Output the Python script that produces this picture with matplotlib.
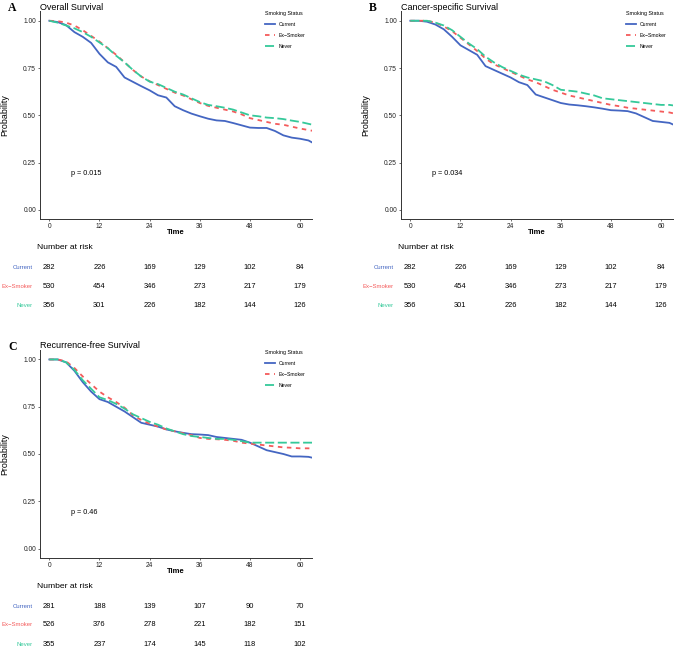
import matplotlib
matplotlib.use('Agg')
import matplotlib.pyplot as plt
import matplotlib.transforms as mtransforms

W, H = 677, 647

TIME = [0, 2, 4, 6, 8, 10, 12, 14, 16, 18, 20, 22, 24, 26, 28, 30, 32, 34, 36,
        38, 40, 42, 44, 46, 48, 50, 52, 54, 56, 58, 60, 62, 63]

# A - Overall survival
os_current = [1.00, 0.993, 0.977, 0.94, 0.915, 0.883, 0.825, 0.78, 0.756, 0.70, 0.677,
              0.654, 0.632, 0.606, 0.594, 0.548, 0.527, 0.509, 0.495, 0.482, 0.473,
              0.47, 0.459, 0.447, 0.435, 0.433, 0.433, 0.417, 0.394, 0.382, 0.376,
              0.367, 0.355]
os_ex = [1.00, 0.998, 0.99, 0.975, 0.95, 0.92, 0.89, 0.855, 0.82, 0.78, 0.74, 0.705,
         0.68, 0.66, 0.64, 0.62, 0.605, 0.585, 0.565, 0.55, 0.54, 0.53, 0.52, 0.505,
         0.485, 0.475, 0.465, 0.455, 0.45, 0.44, 0.43, 0.422, 0.418]
os_never = [1.00, 0.99, 0.975, 0.96, 0.94, 0.915, 0.885, 0.855, 0.815, 0.78, 0.74,
            0.705, 0.678, 0.665, 0.645, 0.625, 0.61, 0.59, 0.57, 0.555, 0.548, 0.54,
            0.53, 0.515, 0.5, 0.495, 0.488, 0.485, 0.48, 0.472, 0.465, 0.455, 0.45]

# B - Cancer-specific survival
css_current = [1.00, 1.00, 0.995, 0.98, 0.955, 0.915, 0.87, 0.845, 0.82, 0.76, 0.74,
               0.72, 0.70, 0.675, 0.66, 0.61, 0.595, 0.58, 0.565, 0.557, 0.553, 0.548,
               0.542, 0.535, 0.527, 0.525, 0.522, 0.51, 0.49, 0.47, 0.465, 0.46, 0.45]
css_ex = [1.00, 1.00, 1.00, 0.99, 0.97, 0.945, 0.91, 0.875, 0.84, 0.80, 0.77, 0.75,
          0.73, 0.71, 0.69, 0.675, 0.655, 0.635, 0.62, 0.605, 0.595, 0.585, 0.575,
          0.565, 0.555, 0.548, 0.54, 0.535, 0.53, 0.525, 0.52, 0.515, 0.51]
css_never = [1.00, 1.00, 1.00, 0.99, 0.975, 0.95, 0.915, 0.88, 0.85, 0.81, 0.78, 0.755,
             0.735, 0.715, 0.70, 0.69, 0.68, 0.66, 0.635, 0.63, 0.625, 0.615, 0.605,
             0.59, 0.585, 0.58, 0.575, 0.57, 0.565, 0.56, 0.555, 0.555, 0.552]

# C - Recurrence-free survival
rfs_current = [1.00, 1.00, 0.985, 0.94, 0.88, 0.83, 0.79, 0.775, 0.75, 0.725, 0.695,
               0.665, 0.655, 0.645, 0.63, 0.62, 0.612, 0.605, 0.603, 0.60, 0.59, 0.585,
               0.58, 0.575, 0.56, 0.54, 0.52, 0.51, 0.50, 0.487, 0.487, 0.485, 0.48]
rfs_ex = [1.00, 1.00, 0.99, 0.955, 0.91, 0.87, 0.83, 0.80, 0.775, 0.745, 0.705, 0.68,
          0.66, 0.645, 0.63, 0.62, 0.61, 0.60, 0.585, 0.58, 0.578, 0.575, 0.57, 0.56,
          0.555, 0.55, 0.545, 0.54, 0.535, 0.533, 0.53, 0.53, 0.527]
rfs_never = [1.00, 1.00, 0.985, 0.945, 0.89, 0.845, 0.80, 0.785, 0.765, 0.74, 0.71,
             0.69, 0.67, 0.655, 0.635, 0.62, 0.605, 0.595, 0.59, 0.585, 0.58, 0.58,
             0.575, 0.568, 0.56, 0.56, 0.56, 0.56, 0.56, 0.56, 0.56, 0.56, 0.56]

GROUPS = ['Current', 'Ex\u2212Smoker', 'Never']
COLORS = ['#4466C2', '#F45B5B', '#35C99A']
STYLES = ['-', (0, (2.5, 2.5)), (0, (5, 2))]

RISK_TIMES = [0, 12, 24, 36, 48, 60]
risk_ab = [[282, 226, 169, 129, 102, 84],
           [530, 454, 346, 273, 217, 179],
           [356, 301, 226, 182, 144, 126]]
risk_c = [[281, 188, 139, 107, 90, 70],
          [526, 376, 278, 221, 182, 151],
          [355, 237, 174, 145, 118, 102]]

plt.rcParams['font.family'] = ['Liberation Sans', 'DejaVu Sans']

fig = plt.figure(figsize=(W / 100, H / 100), dpi=100)


def fy(py):
    return 1 - py / H


def panel(left, top, letter, title, curves, pval, risk):
    width, height = 272, 208
    ax = fig.add_axes([left / W, fy(top + height), width / W, height / H])
    for vals, col, ls, name in zip(curves, COLORS, STYLES, GROUPS):
        ax.plot(TIME, vals, color=col, linestyle=ls, lw=1.3, label=name)
    ax.set_xlim(-2.23, 62.85)
    ax.set_ylim(-0.05, 1.05)
    ax.set_xticks(RISK_TIMES)
    ax.set_yticks([0, 0.25, 0.5, 0.75, 1.0])
    ax.set_yticklabels(['0.00', '0.25', '0.50', '0.75', '1.00'])
    for s in ['top', 'right']:
        ax.spines[s].set_visible(False)
    for s in ['left', 'bottom']:
        ax.spines[s].set_linewidth(0.7)
        ax.spines[s].set_color('#333333')
    ax.tick_params(labelsize=4.8, length=1.6, width=0.5, pad=1.2,
                   color='#333333', labelcolor='#222222')
    ax.text(5.2, 0.19, pval, fontsize=5.2, ha='left', va='center')

    ax.legend(title='Smoking Status', loc='upper left',
              bbox_to_anchor=(0.827, 1.0), frameon=False, fontsize=3.7,
              title_fontsize=3.9, handlelength=2.0, labelspacing=1.15,
              handletextpad=0.7, borderaxespad=0, borderpad=0,
              alignment='left')

    fig.text(left / W, fy(top - 4), title, fontsize=6.5, ha='left', va='center')
    fig.text((left - 32) / W, fy(top - 3), letter, fontsize=8.5, ha='left',
             va='center', fontweight='bold', family='Liberation Serif')
    fig.text((left - 35) / W, fy(top + height / 2), 'Probability', fontsize=6.4,
             rotation=90, ha='center', va='center')
    fig.text((left + width / 2) / W, fy(top + 221.5), 'Time', fontsize=5.5,
             fontweight='bold', ha='center', va='center')

    # risk table
    trans = mtransforms.blended_transform_factory(ax.transData, fig.transFigure)
    fig.text((left - 3) / W, fy(top + 236.5), 'Number at risk', fontsize=6.1,
             ha='left', va='center')
    for i, (name, col, row) in enumerate(zip(GROUPS, COLORS, risk)):
        yy = fy(top + 256 + 19 * i)
        fig.text((left - 7) / W, yy, name, fontsize=4.3, color=col,
                 ha='right', va='center')
        for t, n in zip(RISK_TIMES, row):
            ax.text(t, yy, str(n), transform=trans, fontsize=5.4,
                    ha='center', va='center')
    return ax


panel(40, 11.3, 'A', 'Overall Survival', [os_current, os_ex, os_never],
      'p = 0.015', risk_ab)
panel(401, 11.3, 'B', 'Cancer-specific Survival', [css_current, css_ex, css_never],
      'p = 0.034', risk_ab)
panel(40, 350, 'C', 'Recurrence-free Survival', [rfs_current, rfs_ex, rfs_never],
      'p = 0.46', risk_c)

fig.savefig('out.png', dpi=100)
